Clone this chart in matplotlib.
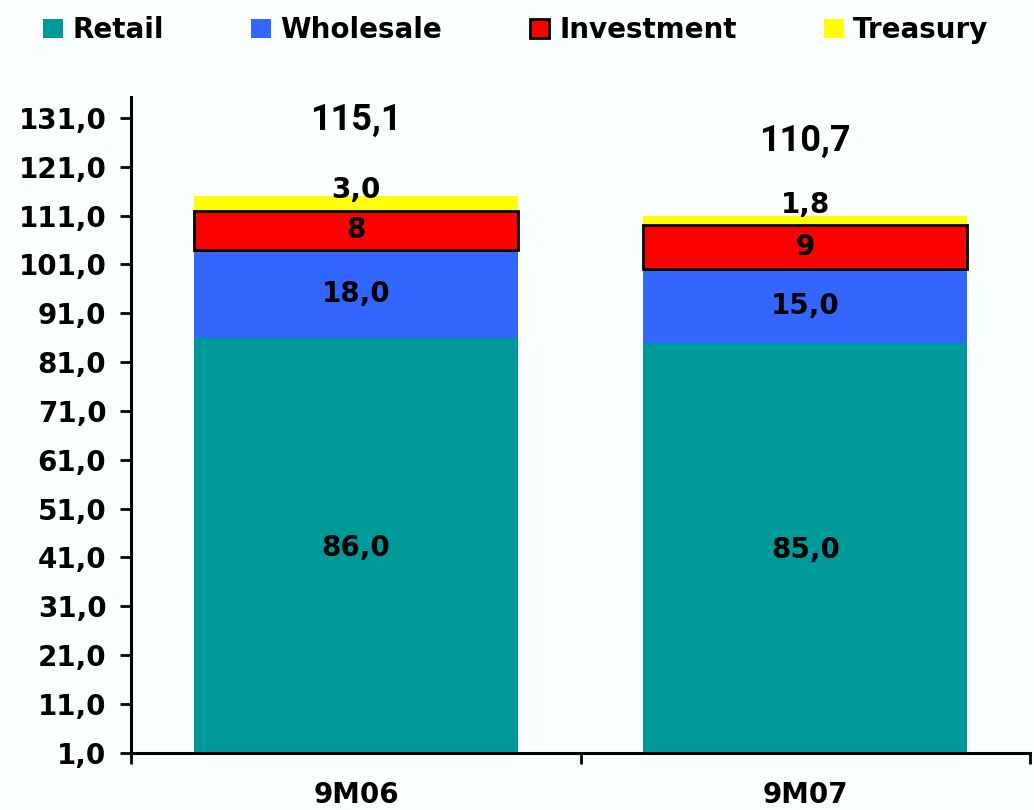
import matplotlib.pyplot as plt
from matplotlib.ticker import FixedLocator
import numpy as np

plt.rcParams['font.family'] = ['DejaVu Sans']
plt.rcParams['font.weight'] = 'bold'

# Data
periods = ['9M06', '9M07']
segments = ['Retail', 'Wholesale', 'Investment', 'Treasury']
retail = [86.0, 85.0]
wholesale = [18.0, 15.0]
investment = [8.0, 9.0]
treasury = [3.0, 1.8]
totals = ['115,1', '110,7']
total_values = [115.1, 110.7]
seg_labels = {
    'Retail': ['86,0', '85,0'],
    'Wholesale': ['18,0', '15,0'],
    'Investment': ['8', '9'],
    'Treasury': ['3,0', '1,8'],
}
yticks = np.arange(1, 132, 10)

colors = {'Retail': '#009999', 'Wholesale': '#3366FF',
          'Investment': '#FF0000', 'Treasury': '#FFFF00'}

bg = '#FBFEFE'
fig = plt.figure(figsize=(10.34, 8.10), dpi=100, facecolor=bg)
ax = fig.add_axes([0.127, 0.0705, 0.869, 0.81])
ax.set_facecolor(bg)

x = np.arange(len(periods))
width = 0.72
bottom = np.zeros(len(periods))
for name, vals in zip(segments, [retail, wholesale, investment, treasury]):
    vals = np.array(vals)
    if name == 'Investment':
        ax.bar(x, vals, width, bottom=bottom, color=colors[name],
               edgecolor='black', linewidth=2, label=name, zorder=3)
    else:
        ax.bar(x, vals, width, bottom=bottom, color=colors[name],
               linewidth=0, label=name, zorder=2)
    for i in range(len(periods)):
        if name == 'Treasury':
            ypos = bottom[i] + vals[i] + [1.2, 2.4][i]
        else:
            ypos = bottom[i] + vals[i] / 2
        ax.text(x[i], ypos, seg_labels[name][i], ha='center', va='center',
                fontsize=20, fontweight='bold', zorder=5)
    bottom = bottom + vals

# totals above bars
for i in range(len(periods)):
    ax.text(x[i], total_values[i] + 15.5, totals[i], ha='center', va='center',
            fontsize=26, fontweight='bold', family=['Roboto', 'DejaVu Sans'])

ax.set_xlim(-0.5, 1.5)
ax.set_ylim(1, 135.3)
ax.set_yticks(yticks)
ax.set_yticklabels([f'{v:.1f}'.replace('.', ',') for v in yticks],
                   fontsize=20, fontweight='bold')
ax.set_xticks(x)
ax.set_xticklabels(periods, fontsize=20, fontweight='bold')
ax.xaxis.set_minor_locator(FixedLocator([-0.5, 0.5, 1.5]))
ax.tick_params(axis='x', which='major', length=0, pad=20)
ax.tick_params(axis='x', which='minor', length=8, width=2, direction='out')
ax.tick_params(axis='y', length=8, width=2, direction='out', pad=10)

for side in ['top', 'right']:
    ax.spines[side].set_visible(False)
for side in ['left', 'bottom']:
    ax.spines[side].set_linewidth(2.2)

handles, labels = ax.get_legend_handles_labels()
leg = fig.legend(handles, labels, loc='center', bbox_to_anchor=(0.499, 0.963),
                 ncol=4, frameon=False, handlelength=0.7,
                 handleheight=0.7, handletextpad=0.35, columnspacing=3.15,
                 prop={'weight': 'bold', 'size': 20})

fig.savefig('out.png', dpi=100, facecolor=bg)
